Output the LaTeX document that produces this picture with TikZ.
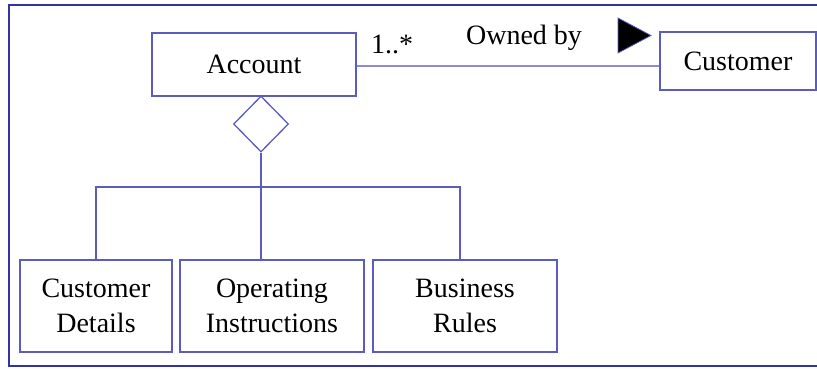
\documentclass[tikz,border=0pt]{standalone}
\usepackage{fontspec}
\setmainfont{Liberation Serif}
\usetikzlibrary{shapes.geometric}
\definecolor{boxline}{RGB}{92,92,190}
\definecolor{frameline}{RGB}{52,52,160}
\definecolor{assocline}{RGB}{140,140,212}
\tikzset{
  umlbox/.style={draw=boxline, line width=1.3pt, fill=white, inner sep=0pt, align=center,
    font=\fontsize{28}{35}\selectfont},
  lbl/.style={inner sep=0pt, font=\fontsize{28}{35}\selectfont},
  conn/.style={draw=boxline, line width=1.3pt},
}
\begin{document}
\begin{tikzpicture}[x=1pt,y=-1pt]
\useasboundingbox (0,0) rectangle (817,369);
\draw[frameline, line width=2pt] (818,5) -- (9,5) -- (9,366) -- (818,366);
% boxes
\node[umlbox, minimum width=204pt, minimum height=63pt] (acc) at (254,64.5) {Account};
\node[umlbox, minimum width=156pt, minimum height=58pt] (cus) at (738,61) {Customer};
\node[umlbox, minimum width=152pt, minimum height=92pt] (b1) at (96,306) {Customer\\Details};
\node[umlbox, minimum width=184pt, minimum height=92pt] (b2) at (272,306) {Operating\\Instructions};
\node[umlbox, minimum width=184pt, minimum height=92pt] (b3) at (465,306) {Business\\Rules};
% diamond
\node[diamond, draw=boxline, line width=1.3pt, minimum width=55pt, minimum height=56pt, inner sep=0pt] (dia) at (261,124) {};
% association
\draw[assocline, line width=2pt] (acc.east |- 0,66) -- (cus.west |- 0,66);
\node[lbl] (mult) at (392,44) {1..*};
\node[lbl] (own) at (524,38) {Owned by};
\draw[fill=black, draw=boxline, line width=0.8pt] (618,18) -- (651,35.5) -- (618,53) -- cycle;
% aggregation tree
\coordinate (bl) at (96,187);
\coordinate (br) at (460,187);
\draw[conn] (dia.south) -- (dia.south |- b2.north);
\draw[conn] (bl |- b1.north) -- (bl) -- (br) -- (br |- b3.north);
\end{tikzpicture}
\end{document}
